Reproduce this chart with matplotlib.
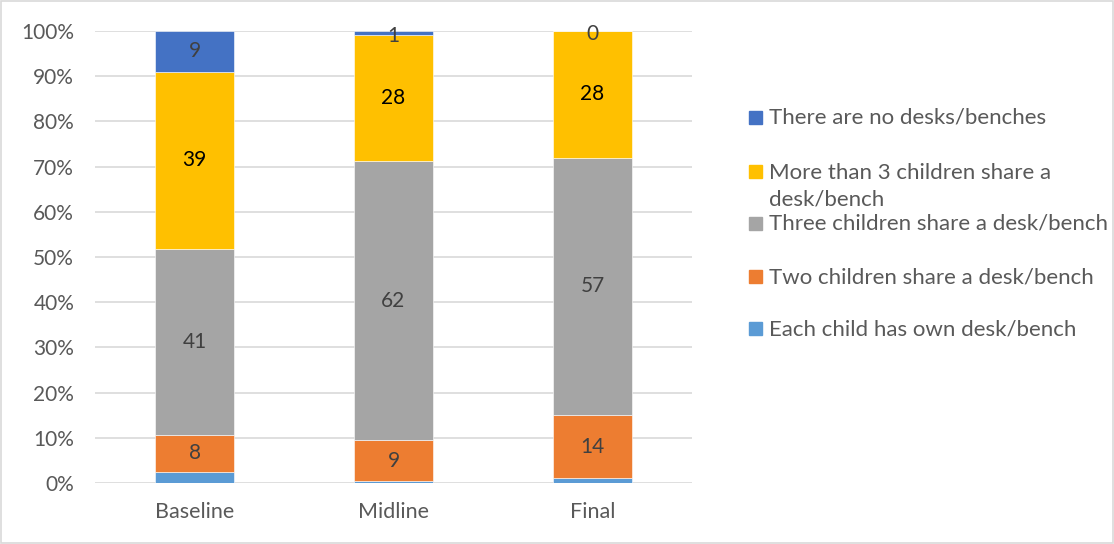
import matplotlib
matplotlib.use("Agg")
import matplotlib.pyplot as plt
from matplotlib.patches import Rectangle
import numpy as np

plt.rcParams['font.family'] = ['Lato', 'DejaVu Sans']

categories = ["Baseline", "Midline", "Final"]
series_names = [
    "Each child has own desk/bench",
    "Two children share a desk/bench",
    "Three children share a desk/bench",
    "More than 3 children share a\ndesk/bench",
    "There are no desks/benches",
]
own_desk = [2.5, 0.5, 1]
two_share = [8, 9, 14]
three_share = [41, 62, 57]
more_than_three = [39, 28, 28]
no_desks = [9, 1, 0]

colors = ["#5B9BD5", "#ED7D31", "#A5A5A5", "#FFC000", "#4472C4"]
label_colors = [None, "#404040", "#404040", "#000000", "#404040"]

series = [own_desk, two_share, three_share, more_than_three, no_desks]
data = np.array(series, dtype=float)
totals = data.sum(axis=0)
pct = data / totals * 100

FS = 15
LFS = 16

fig = plt.figure(figsize=(11.14, 5.44), dpi=100)
ax = fig.add_axes([95 / 1114, 1 - 483 / 544, 597 / 1114, 452 / 544])

x = np.arange(len(categories))
bottom = np.zeros(len(categories))
for i, vals in enumerate(pct):
    ax.bar(x, vals, width=0.4, bottom=bottom, color=colors[i],
           edgecolor="white", linewidth=0.4, zorder=3)
    if label_colors[i] is not None:
        for j in range(len(categories)):
            yc = bottom[j] + vals[j] / 2
            if vals[j] < 2:
                yc = bottom[j] + vals[j] / 2 - 0.6
            ax.text(x[j], yc, f"{data[i, j]:g}", ha="center", va="center",
                    fontsize=FS, color=label_colors[i], zorder=4)
    bottom += vals

ax.set_xlim(-0.5, 2.5)
ax.set_ylim(0, 100)
ax.set_yticks(np.arange(0, 101, 10))
ax.set_yticklabels([f"{v}%" for v in range(0, 101, 10)])
ax.set_xticks(x)
ax.set_xticklabels(categories)
ax.tick_params(axis="both", length=0, labelsize=FS, colors="#595959")
ax.tick_params(axis="x", labelsize=15.5, pad=14)
ax.tick_params(axis="y", pad=15)
ax.yaxis.grid(True, color="#D9D9D9", linewidth=1.2, zorder=0)
for s in ax.spines.values():
    s.set_visible(False)

# legend drawn in figure pixel coordinates
legend_rows = [
    (4, 118),
    (3, 172),
    (2, 224),
    (1, 277),
    (0, 329),
]
W, H = 1114, 544
for idx, ypix in legend_rows:
    fig.add_artist(Rectangle((749 / W, 1 - (ypix + 6) / H), 13 / W, 13 / H,
                             transform=fig.transFigure, color=colors[idx]))
    multi = "\n" in series_names[idx]
    fig.text(769 / W, 1 - (ypix - 9 if multi else ypix) / H, series_names[idx],
             ha="left", va="top" if multi else "center",
             fontsize=LFS, color="#595959", linespacing=1.42,
             transform=fig.transFigure)

# outer frame
fig.add_artist(Rectangle((1 / W, 1 / H), 1 - 2 / W, 1 - 2 / H, transform=fig.transFigure,
                         fill=False, edgecolor="#D9D9D9", linewidth=1.2))

fig.savefig("out.png", dpi=100)
